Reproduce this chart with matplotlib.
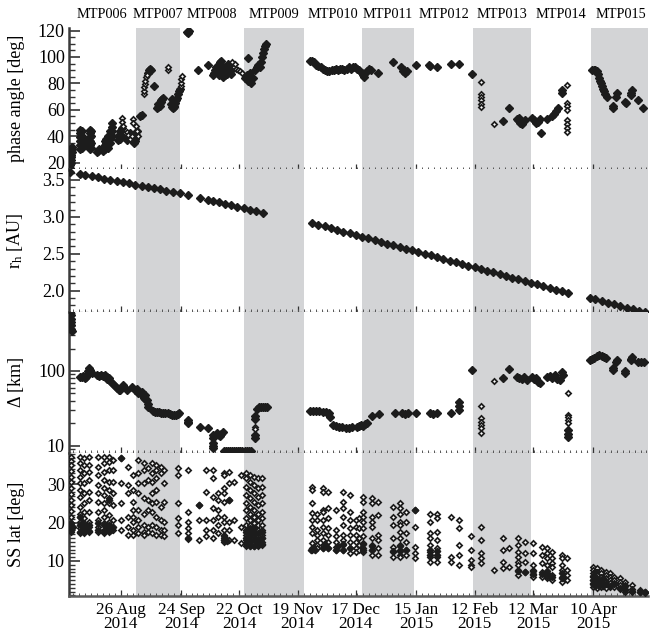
import numpy as np
import pandas as pd
import matplotlib
matplotlib.use('Agg')
import matplotlib.pyplot as plt
import matplotlib.dates as mdates
from matplotlib.transforms import blended_transform_factory
from matplotlib.ticker import MultipleLocator, FixedLocator, LogLocator, NullFormatter

plt.rcParams['font.family'] = ['Liberation Serif', 'DejaVu Serif']
plt.rcParams['mathtext.fontset'] = 'custom'
plt.rcParams['mathtext.rm'] = 'Liberation Serif'
plt.rcParams['mathtext.it'] = 'Liberation Serif:italic'

EPOCH = '2014-08-01'   # all "day" values are days since this date

# ---------------- MTP periods ----------------
mtp_names = ['MTP006', 'MTP007', 'MTP008', 'MTP009', 'MTP010',
             'MTP011', 'MTP012', 'MTP013', 'MTP014', 'MTP015']
mtp_start = [0.0, 32.4, 53.5, 84.2, 112.9, 140.9, 165.9, 194.4, 222.1, 250.9]
mtp_end = [32.4, 53.5, 84.2, 112.9, 140.9, 165.9, 194.4, 222.1, 250.9, 279.5]
mtp_shaded = [False, True, False, True, False, True, False, True, False, True]

tick_dates = ['2014-08-26', '2014-09-24', '2014-10-22', '2014-11-19', '2014-12-17',
              '2015-01-15', '2015-02-12', '2015-03-12', '2015-04-10']
tick_labels = ['26 Aug\n2014', '24 Sep\n2014', '22 Oct\n2014', '19 Nov\n2014',
               '17 Dec\n2014', '15 Jan\n2015', '12 Feb\n2015', '12 Mar\n2015',
               '10 Apr\n2015']

# ---------------- phase angle [deg] ----------------
pa_filled = [
    (0.8, 16), (0.8, 18), (1.0, 20), (1.0, 22), (1.2, 24), (1.2, 26), (1.4, 28), (1.4, 30), (1.6, 32),
    (5.6, 30), (5.6, 33), (5.6, 36), (5.6, 39), (5.6, 42), (5.6, 45), (6.4, 31), (6.4, 35), (6.4, 40), (6.4, 44),
    (7.4, 33), (7.4, 36), (8.4, 34), (8.4, 36), (9.4, 33), (9.4, 36),
    (10.2, 30), (10.2, 33), (10.2, 36), (10.2, 39), (10.2, 42), (10.2, 45), (10.8, 31), (10.8, 35), (10.8, 40), (10.8, 44),
    (13.6, 28), (14.2, 29), (14.8, 30),
    (16.5, 29), (16.5, 31), (17.3, 30), (17.3, 33), (17.3, 36), (18.1, 32), (18.1, 35), (18.1, 38),
    (19.0, 31), (19.0, 34), (19.0, 37), (19.0, 40), (19.8, 35), (19.8, 38), (19.8, 41), (19.8, 44),
    (20.6, 40), (20.6, 44), (20.6, 47), (20.6, 50),
    (23.8, 37), (23.8, 40), (24.6, 38), (24.6, 41), (24.6, 44), (25.4, 40), (25.4, 46),
    (28.0, 37), (28.6, 39), (29.3, 42),
    (31.2, 35), (31.8, 36), (31.8, 38), (32.4, 41), (33.0, 44),
    (34.3, 55), (35.0, 56),
    (38.0, 88), (38.5, 90), (39.0, 91), (39.5, 90),
    (41.0, 78),
    (42.6, 61), (43.0, 62), (43.0, 64), (43.4, 63), (43.8, 65), (44.0, 63), (44.2, 66), (44.6, 67), (45.0, 68), (45.3, 69),
    (49.2, 64), (49.5, 68), (49.6, 62), (50.0, 61), (50.0, 66), (50.4, 62), (50.8, 63), (51.2, 65), (51.6, 67), (52.0, 69),
    (52.6, 72), (53.0, 74), (53.4, 76),
    (57.0, 119), (57.3, 118), (57.6, 120),
    (62.1, 90), (67.0, 94),
    (69.5, 86), (70.0, 88), (70.5, 90), (71.0, 92), (71.5, 91), (72.0, 94), (72.0, 86), (72.5, 96), (73.0, 97),
    (73.5, 93), (74.0, 90), (74.0, 85), (74.5, 88), (75.0, 86), (75.5, 89), (76.0, 92), (76.0, 87), (76.5, 95),
    (77.0, 93), (77.5, 89), (78.0, 87), (78.5, 91),
    (84.7, 84), (85.5, 86), (86.0, 99), (86.3, 82), (87.0, 88), (87.8, 80), (88.6, 84), (89.5, 90), (90.3, 92),
    (91.1, 94), (91.8, 92), (92.3, 96), (92.8, 100), (93.3, 103), (93.8, 106), (94.3, 108), (94.8, 110),
    (116.0, 97), (117.0, 97), (118.0, 96), (119.0, 94), (120.0, 93), (121.0, 92), (122.0, 91), (123.0, 90),
    (124.0, 89), (125.0, 89),
    (126.5, 90), (127.5, 90), (128.5, 91), (129.5, 90), (130.5, 91), (131.5, 91), (132.5, 90), (133.5, 91),
    (134.5, 92), (135.5, 91), (136.5, 92), (137.5, 92), (138.5, 91), (139.5, 90),
    (141.0, 88), (141.5, 86), (142.0, 85), (142.5, 88), (143.5, 89), (144.5, 91), (145.0, 90),
    (148.6, 88), (155.8, 96),
    (159.5, 92), (160.5, 89), (161.0, 90), (161.5, 88), (162.5, 89),
    (166.8, 94), (173.1, 94), (173.6, 93), (176.9, 92), (183.6, 95), (187.5, 94.6), (193.7, 87),
    (208.6, 51.4), (211.5, 61),
    (215.3, 53), (216.0, 52), (216.5, 54), (217.0, 50), (218.0, 49), (219.0, 52),
    (222.5, 54), (223.5, 52), (224.5, 50), (225.5, 51), (226.4, 53),
    (226.9, 42), (229.8, 53),
    (232.2, 55), (233.0, 57), (234.0, 59), (235.0, 61),
    (236.9, 73), (237.1, 75),
    (251.4, 90), (252.2, 90), (253.0, 90), (253.8, 89),
    (254.3, 87), (254.8, 84), (255.3, 82), (255.8, 80), (256.3, 78), (256.8, 76), (257.3, 74), (257.8, 72), (258.4, 70),
    (261.4, 61), (261.6, 63), (263.3, 72.6), (263.1, 70), (267.2, 66), (267.5, 65),
    (270.5, 75), (270.3, 73), (270.1, 71), (273.4, 67), (275.8, 61),
]
pa_open = [
    (25.8, 54), (25.8, 51), (26.3, 48),
    (28.0, 43), (28.6, 41), (29.3, 38), (30.4, 40),
    (31.0, 53), (31.0, 50),
    (32.3, 48), (32.8, 44), (33.3, 40),
    (36.3, 72), (36.3, 74.5), (36.3, 77), (36.6, 79.5), (36.9, 82), (37.2, 84.5), (37.5, 86),
    (47.7, 90), (47.7, 92.5),
    (53.8, 78), (54.0, 80.5), (54.2, 83), (54.5, 85.5),
    (78.5, 96), (79.5, 92), (80.0, 95), (80.5, 91), (81.5, 90), (82.5, 89), (83.5, 88),
    (198.0, 81), (198.0, 72), (198.0, 69.5), (198.0, 67), (198.0, 64.5), (198.0, 62),
    (204.3, 49),
    (239.4, 78.7), (239.4, 65), (239.4, 62.5), (239.4, 60), (239.4, 52), (239.4, 49), (239.4, 46), (239.4, 43),
]

# ---------------- heliocentric distance r_h [AU] ----------------
rh_days = [0.6, 5.5, 8, 11, 14, 17, 20, 23, 26, 29, 32, 35, 38, 41, 44, 47, 50, 53.5,
           57.4, 63.1, 66.9, 69.5, 72, 75, 78, 81, 84, 87, 90, 93.4,
           117, 120, 123, 126, 129, 132, 135, 138, 141, 144, 147, 150, 153, 156, 159, 162,
           165, 168, 171, 174, 177, 180, 183, 186, 189, 192, 195, 198, 201, 204, 207, 210,
           213, 216, 219, 222, 225, 228, 231, 234, 237, 239.9,
           250.5, 253, 256, 259, 262, 265, 268, 271, 274, 276.8]
rh_vals = [3.610, 3.583, 3.569, 3.553, 3.536, 3.520, 3.503, 3.487, 3.471, 3.454, 3.438, 3.421,
           3.405, 3.388, 3.372, 3.355, 3.339, 3.320,
           3.294, 3.257, 3.232, 3.215, 3.198, 3.178, 3.158, 3.138, 3.118, 3.098, 3.078, 3.056,
           2.916, 2.893, 2.870, 2.847, 2.824, 2.800, 2.777, 2.754, 2.731, 2.708, 2.685, 2.662,
           2.639, 2.616, 2.593, 2.570, 2.547, 2.524, 2.500, 2.477, 2.454, 2.431, 2.408, 2.385,
           2.362, 2.339, 2.316, 2.293, 2.270, 2.247, 2.224, 2.200, 2.177, 2.154, 2.131, 2.108,
           2.085, 2.062, 2.039, 2.016, 1.993, 1.971,
           1.900, 1.881, 1.858, 1.836, 1.813, 1.791, 1.768, 1.746, 1.723, 1.712]

# ---------------- distance Delta [km] ----------------
dl_filled = [
    (0.8, 620), (0.9, 560), (1.0, 500), (1.1, 450), (1.2, 410), (1.3, 370), (1.4, 340),
    (5.5, 84), (6.3, 82), (7.0, 86), (7.8, 80), (8.5, 84), (9.0, 88), (9.5, 100), (9.9, 108), (10.4, 104), (11.0, 95),
    (13.6, 88), (14.5, 86), (15.5, 88), (16.5, 86), (17.5, 88), (17.5, 85), (18.5, 84), (18.5, 78), (19.5, 80),
    (19.5, 75), (20.5, 71),
    (21.3, 68), (22.2, 63), (23.1, 59), (24.0, 56), (24.6, 55),
    (26.1, 65), (28.0, 56), (30.4, 61),
    (31.9, 56), (32.6, 58), (33.3, 54), (33.5, 50), (34.0, 52), (34.7, 50), (35.0, 53), (35.4, 47), (36.1, 44),
    (36.5, 48), (36.8, 42), (37.5, 41),
    (38.1, 33), (38.1, 36),
    (40.5, 29), (41.5, 28), (42.5, 28), (43.5, 28), (44.5, 27.5), (45.5, 27), (46.5, 27), (47.5, 27), (48.5, 26.5),
    (49.5, 26), (50.5, 25.5), (51.5, 26), (52.5, 26.5), (53.2, 27),
    (57.3, 22), (57.3, 21), (57.5, 20),
    (63.1, 17.8), (66.9, 17.3),
    (69.3, 14), (69.3, 12.5), (69.4, 11), (69.4, 10), (69.5, 9.3),
    (71.3, 15), (72.0, 14), (72.7, 13.6), (73.4, 14.5), (74.1, 15.2),
    (74.5, 8.6), (75.5, 8.6), (76.5, 8.6), (77.5, 8.6), (78.5, 8.6), (79.5, 8.6), (80.5, 8.5), (81.5, 8.5),
    (82.5, 8.5), (83.5, 8.5), (84.5, 8.5), (85.5, 8.5), (86.5, 8.5), (87.5, 8.5),
    (89.5, 25), (89.5, 23), (89.5, 14), (89.5, 12.6),
    (90.5, 31), (91.5, 32.5), (92.5, 33), (93.5, 33), (94.5, 33), (95.3, 33),
    (116, 29), (117.5, 29), (119, 29), (120.5, 29), (122, 28.5), (123.5, 28), (125, 27), (125.5, 24.2),
    (127, 19), (128.5, 18.5), (130, 18), (131.5, 17.8), (133, 17.5), (134.5, 17.5), (136, 17.8),
    (138.5, 18), (139.5, 18.5), (140.5, 19), (141.5, 18.5), (142.5, 19.5), (143.3, 20),
    (145.7, 25), (149.1, 26.6), (156.7, 27), (160.1, 27), (161.5, 26.5), (163, 27), (166.8, 27),
    (173.6, 27), (175.2, 26.5), (176.9, 27), (183.6, 27),
    (187.5, 38.5), (187.5, 34), (187.5, 30),
    (193.7, 103),
    (208.6, 80), (211.5, 106),
    (215.3, 83), (216.5, 80), (217.7, 78), (218.9, 82), (220.1, 76),
    (222.5, 83), (223.5, 78), (224.5, 80), (225.5, 72), (226.4, 69),
    (229.8, 82), (231, 86), (232.2, 80), (233.4, 88), (234.6, 78), (235.8, 76), (236.9, 97), (237.4, 88),
    (239.9, 16), (239.9, 14.5), (239.9, 13),
    (250.4, 140), (251.5, 145), (252.6, 150), (253.7, 158), (254.8, 164), (256, 160), (257.1, 155), (258.2, 150),
    (261.4, 103), (261.6, 110), (263.3, 140), (263.1, 130), (267.2, 94), (267.4, 100),
    (270.5, 154), (270.3, 145), (270.1, 140), (273.4, 132), (275, 131), (276.5, 132),
]
dl_open = [(89.5, 18), (89.5, 16.5), (198, 34), (198, 23.5), (198, 21), (198, 19), (198, 17), (198, 15),
           (204.3, 73.5), (239.9, 51), (239.9, 26), (239.9, 24), (239.9, 22), (239.9, 20)]

# ---------------- sub-solar latitude [deg] (columns of facets) ----------------
ss_col_days = [1.1, 5.5, 7.4, 9.8, 14.1, 17.0, 19.4, 21.3, 25.2, 28.5, 31.0, 33.3, 36.2, 38.1, 40.0,
               41.9, 44.3, 45.8, 52.5, 57.4, 62.6, 66.0, 69.4, 71.7, 74.6, 77.0, 79.4, 82.8,
               85.2, 87.1, 89.0, 90.9, 92.9,
               117.0, 119.4, 122.3, 124.6, 128.5, 131.8, 135.1, 138.0, 139.5, 141.4, 145.7, 148.6,
               155.8, 159.2, 162.0, 166.4, 173.6, 176.9, 183.6, 187.5, 193.3, 198.0, 204.3, 208.6,
               211.5, 215.8, 219.2, 223.0, 227.3, 229.8, 232.2, 237.0, 239.4,
               251.8, 253.8, 255.7, 258.1, 260.0, 261.9, 264.8, 267.2, 270.6, 274.4, 276.8]
ss_col_lats = [
    [37.2, 36, 35, 33.5, 32, 30.5, 29, 27.5, 26, 24.5, 23, 21.5, 20, 19, 18, 17.5],
    [37.2, 35.5, 33.8, 32.0, 30.3, 28.5, 26.8, 24.2, 22.4, 21.6, 20.3, 19.4, 18.5, 17.7, 17.2],
    [36.8, 35.1, 32.9, 30.3, 27.7, 25.1, 22.9, 21.1, 19.8, 19.0, 18.1, 17.4],
    [37.2, 35.1, 33.3, 31.1, 28.1, 25.9, 22.9, 20.3, 19.0, 17.7],
    [37.2, 34.6, 32.5, 29.8, 27.7, 25.5, 22.9, 20.7, 19.0, 17.7],
    [37.2, 35.5, 33.3, 31.1, 29.0, 27.2, 25.1, 23.3, 21.6, 19.8, 18.1, 17.2],
    [37.2, 35.9, 33.8, 30.7, 28.5, 26.4, 25.9, 25.1, 22.0, 20.3, 19.4, 18.5, 17.7],
    [36.4, 33.8, 30.7, 27.7, 24.6, 20.7, 18.1],
    [36.8, 30.3, 25.1, 20.7, 18.1],
    [34.6, 29.8, 27.7, 21.6, 19.0, 16.8],
    [32.5, 28.5, 25.5, 23.3, 21.6, 20.3, 18.1, 16.8],
    [36.4, 32.9, 30.3, 27.7, 23.3, 20.7, 19.0, 17.2],
    [35.5, 33.8, 30.3, 26.4, 22.4, 19.4, 17.7, 16.8],
    [34.2, 31.1, 25.9, 23.3, 19.0, 17.7],
    [35.5, 32.9, 30.7, 27.7, 25.1, 22.9, 19.4, 17.2],
    [35.1, 33.8, 31.6, 28.5, 25.5, 21.6, 19.0, 16.8],
    [34.6, 32.9, 24.2, 20.7, 18.1, 16.8],
    [33.8, 30.3, 25.5, 20.3, 18.1, 16.5],
    [34.2, 32.5, 25.1, 21.1, 19.4, 17.2],
    [33.8, 22.9, 20.3, 18.5, 17.2, 15.7],
    [24.6, 20.7, 15.5],
    [33.8, 28.1, 20.7, 18.1, 16.4],
    [33.8, 31.6, 26.8, 23.8, 20.7, 18.1, 15.9],
    [27.7, 25.9, 23.3, 21.6, 19.4, 17.2],
    [32.9, 32.5, 29.0, 27.7, 25.5, 21.6, 20.3, 18.1, 16.8, 15.9, 15.5, 15.0],
    [33.3, 30.3, 25.9, 20.3, 18.1, 15.5],
    [30.7, 20.7, 15.5],
    [32.5, 19.0, 14.6],
    [32.9, 31.6, 29.4, 27.2, 25.1, 23.3, 21.1, 19.4, 18.1, 16.8, 15.5, 14.6, 13.9],
    [32.5, 30.7, 28.5, 26.4, 24.2, 22.4, 20.7, 19.4, 18.1, 17.2, 16.4, 15.5, 14.6],
    [32.0, 29.8, 27.7, 25.5, 23.3, 21.6, 19.8, 18.5, 17.2, 16.4, 15.5, 14.6, 13.9],
    [31.6, 29.0, 26.8, 24.6, 22.4, 20.7, 19.4, 18.1, 17.2, 16.4, 15.5, 14.6, 13.9],
    [31.6, 29.4, 27.2, 25.1, 22.9, 21.1, 19.4, 18.1, 16.8, 15.9, 15.0, 14.2],
    [29.4, 28.5, 25.1, 22.5, 20.7, 18.9, 17.3, 14.7, 13.4, 13.0],
    [22.4, 20.7, 18.1, 16.8, 15.5, 14.2, 13.3],
    [29.0, 28.1, 23.3, 22.9, 20.7, 19.0, 17.2, 15.5, 14.2, 13.3],
    [28.1, 23.8, 21.1, 18.5, 16.8, 15.0, 13.3],
    [23.3, 18.1, 16.4, 15.0, 13.7, 12.9],
    [28.1, 25.5, 23.8, 21.6, 19.4, 16.8, 15.5, 14.2, 12.9],
    [27.2, 22.9, 20.7, 18.5, 16.8, 15.0, 13.3, 12.0],
    [20.7, 19.0, 16.8, 15.0, 13.3, 12.4],
    [21.1, 18.5, 15.9, 14.2, 12.9],
    [26.8, 25.5, 22.9, 21.6, 20.3, 18.5, 16.4, 14.6, 13.3, 12.4],
    [26.4, 25.1, 21.6, 20.3, 19.0, 15.9, 14.2, 12.9, 11.6],
    [25.5, 22.0, 16.8, 15.5, 13.3, 11.6],
    [24.2, 21.6, 19.4, 15.9, 13.7, 12.4, 11.1],
    [25.1, 23.8, 22.4, 20.3, 19.4, 17.7, 15.9, 14.2, 12.9, 11.6, 11.1],
    [22.9, 20.3, 17.2, 15.0, 12.9, 11.6],
    [23.3, 19.0, 13.7, 12.0, 10.7],
    [22.4, 20.3, 17.2, 15.9, 14.2, 12.4, 11.1, 9.8],
    [22.4, 21.1, 17.7, 15.5, 13.3, 11.1, 9.8],
    [21.6, 11.1, 9.8],
    [20.7, 18.5, 14.2, 11.6, 9.0],
    [16.4, 12.9, 10.3, 9.0, 8.5],
    [19.0, 15.5, 12.0, 10.7, 9.4],
    [7.7],
    [15.9, 12.9, 9.8, 8.1],
    [13.3, 8.5],
    [15.9, 14.2, 12.4, 11.1, 9.8, 9.0, 7.7, 6.3],
    [15.0, 12.0, 9.8, 7.2],
    [14.6, 12.0, 9.0, 7.7, 6.3, 5.9],
    [13.7, 11.6, 9.4, 7.2, 5.9],
    [13.3, 12.0, 10.7, 9.0, 6.8, 5.5],
    [12.4, 10.7, 9.4, 8.5, 6.3, 5.0],
    [11.6, 10.7, 9.0, 7.7, 5.9, 4.6],
    [10.7, 7.7, 6.3, 5.0],
    [8.5, 7.7, 6.8, 5.9, 5.0, 4.2, 3.3],
    [8.1, 7.2, 6.3, 5.5, 4.6, 3.7, 3.0],
    [7.7, 6.8, 5.9, 5.0, 4.2, 3.3],
    [7.2, 6.3, 5.5, 4.6, 3.7, 3.0],
    [6.8, 5.9, 5.0, 4.2, 3.3],
    [5.9, 5.0, 4.2, 3.3],
    [5.5, 4.6, 3.7, 2.8],
    [4.6, 3.7, 2.8, 2.0],
    [3.7, 2.8, 2.0],
    [2.4, 1.8],
    [2.0, 1.6],
]
ss_filled = [
    (1.1, 18), (1.1, 20), (2.0, 19), (5.5, 17.5), (5.5, 19.5), (5.5, 21.5), (6.5, 18), (6.5, 20), (7.4, 17.5),
    (7.4, 19), (8.5, 18.5), (9.8, 17.8), (9.8, 19.5), (14.1, 18), (14.1, 20), (17.0, 17.5), (17.0, 19.5),
    (18.2, 18.5), (19.4, 17.8), (19.4, 19.5), (19.4, 26), (20.5, 18), (21.3, 19), (25.2, 36.8),
    (57.4, 16), (62.6, 24.6), (74.6, 15.5), (75.3, 16), (76.0, 15.3), (74.6, 16.5), (77.0, 25.9),
    (85.2, 14.5), (85.2, 16), (85.2, 17.5), (87.0, 14), (87.0, 15.5), (87.0, 17), (87.0, 18.5), (89.0, 14),
    (89.0, 15.5), (89.0, 17), (89.0, 18.5), (91.0, 14.2), (91.0, 15.7), (91.0, 17.2), (93.0, 14.5), (93.0, 16),
    (93.0, 17.5),
    (116.5, 13), (117.5, 13.5), (118.5, 13), (122.0, 13.5), (123.0, 14.5), (124.5, 13.5), (128.5, 13),
    (129.5, 14), (131.8, 13), (131.8, 14.5), (135.0, 13.5), (141.4, 13), (141.4, 14.5), (145.7, 12.8),
    (145.7, 14), (155.8, 12.5), (159.2, 12.5), (159.2, 14), (162.0, 13), (166.4, 23.3), (173.6, 11.5),
    (173.6, 13), (176.9, 11.5), (176.9, 12.5),
    (216.0, 7.5), (219.2, 7), (223.0, 6.5), (223.0, 7.5), (227.3, 6.5), (229.8, 6), (229.8, 7.5), (232.2, 5.8),
    (237.0, 5.5), (237.0, 6.8),
    (251.8, 4), (251.8, 5), (251.8, 6), (252.8, 3.5), (252.8, 4.5), (252.8, 5.5), (252.8, 7), (253.8, 4),
    (254.8, 3.5), (254.8, 5), (255.7, 4), (256.7, 3.5), (256.7, 5.5), (258.1, 4), (260.0, 3.5), (261.9, 4),
    (264.8, 3.0), (267.2, 2.5), (267.2, 3.5), (270.6, 2.2), (274.4, 2.0), (276.8, 1.8),
]

# ---------------- helpers ----------------
EP = pd.Timestamp(EPOCH)


def to_dates(days):
    return EP + pd.to_timedelta(np.asarray(days, dtype=float), unit='D')


def unzip(pairs):
    d, v = zip(*pairs)
    return list(d), list(v)


INK = '#1c1c1c'


def plot_filled(ax, days, vals, ms=3.8):
    ax.plot(to_dates(days), vals, ls='none', marker='D', ms=ms, mfc=INK, mec=INK,
            mew=1.0, zorder=3)


def plot_open(ax, days, vals):
    ax.plot(to_dates(days), vals, ls='none', marker='D', ms=2.7, mfc='white', mec=INK,
            mew=1.25, zorder=3)


fig = plt.figure(figsize=(6.59, 6.35), dpi=100)
W_PX, H_PX = 659.0, 635.0
left, width = 69 / W_PX, 579 / W_PX
edges = [28, 169.5, 311.5, 453, 596]
axes = []
for i in range(4):
    b = 1 - edges[i + 1] / H_PX
    h = (edges[i + 1] - edges[i]) / H_PX
    axes.append(fig.add_axes([left, b, width, h]))

xmin = EP + pd.Timedelta(days=0.17)
xmax = EP + pd.Timedelta(days=278.3)
major_nums = mdates.date2num(pd.to_datetime(tick_dates))
minor_nums = []
step = np.mean(np.diff(major_nums)) / 10.0
x0n, x1n = mdates.date2num(xmin), mdates.date2num(xmax)
m = major_nums[0]
while m - step > x0n:
    m -= step
while m < x1n:
    minor_nums.append(m)
    m += step

for i, ax in enumerate(axes):
    for s, e, sh in zip(mtp_start, mtp_end, mtp_shaded):
        if sh:
            ax.axvspan(to_dates([s])[0], to_dates([e])[0], color='#d3d4d6', lw=0, zorder=0)
    ax.set_xlim(xmin, xmax)
    ax.xaxis.set_major_locator(FixedLocator(major_nums))
    ax.xaxis.set_minor_locator(FixedLocator(minor_nums))
    ax.spines['top'].set_visible(False)
    ax.spines['right'].set_visible(False)
    ax.spines['left'].set_linewidth(1.8)
    ax.spines['left'].set_color('#3a3a3a')
    if i < 3:
        ax.spines['bottom'].set_linestyle((0, (1, 3.5)))
        ax.spines['bottom'].set_linewidth(0.9)
        ax.spines['bottom'].set_color('#555555')
        ax.tick_params(axis='x', which='both', labelbottom=False)
    else:
        ax.spines['bottom'].set_linewidth(1.8)
        ax.spines['bottom'].set_color('#5a5a5a')
    ax.tick_params(axis='x', which='major', direction='in', length=4, width=0.9, color='#333333')
    ax.tick_params(axis='x', which='minor', direction='in', length=2, width=0.7, color='#555555')
    ax.tick_params(axis='y', which='major', direction='in', length=8, width=1.2, color='#333333',
                   labelsize=13, pad=3)
    ax.tick_params(axis='y', which='minor', direction='in', length=4, width=1.0, color='#333333')
    ax.yaxis.set_label_coords(-0.076, 0.5)

# panel 1: phase angle
ax = axes[0]
d, v = unzip(pa_filled)
plot_filled(ax, d, v)
d, v = unzip(pa_open)
plot_open(ax, d, v)
ax.set_ylim(14.7, 121.9)
ax.yaxis.set_major_locator(MultipleLocator(20))
ax.yaxis.set_minor_locator(MultipleLocator(5))
ax.set_ylabel('phase angle [deg]', fontsize=13)

# panel 2: r_h
ax = axes[1]
plot_filled(ax, rh_days, rh_vals, ms=3.9)
ax.set_ylim(1.718, 3.642)
ax.yaxis.set_major_locator(MultipleLocator(0.5))
ax.yaxis.set_minor_locator(MultipleLocator(0.1))
ax.yaxis.set_major_formatter(matplotlib.ticker.FormatStrFormatter('%.1f'))
ax.set_ylabel(r'r$_\mathrm{h}$ [AU]', fontsize=13)

# panel 3: Delta
ax = axes[2]
ax.set_yscale('log')
d, v = unzip(dl_filled)
plot_filled(ax, d, v)
d, v = unzip(dl_open)
plot_open(ax, d, v)
ax.set_ylim(7.98, 626)
ax.yaxis.set_major_locator(FixedLocator([10, 100]))
ax.yaxis.set_major_formatter(matplotlib.ticker.FixedFormatter(['10', '100']))
ax.yaxis.set_minor_locator(LogLocator(base=10, subs=np.arange(2, 10)))
ax.yaxis.set_minor_formatter(NullFormatter())
ax.set_ylabel('Δ [km]', fontsize=13)

# panel 4: SS lat
ax = axes[3]
sd, sl = [], []
for cd, lats in zip(ss_col_days, ss_col_lats):
    sd.extend([cd] * len(lats))
    sl.extend(lats)
plot_open(ax, sd, sl)
d, v = unzip(ss_filled)
plot_filled(ax, d, v, ms=3.3)
ax.set_ylim(0.86, 38.2)
ax.yaxis.set_major_locator(MultipleLocator(10))
ax.yaxis.set_minor_locator(MultipleLocator(1))
ax.set_ylabel('SS lat [deg]', fontsize=13)
ax.set_xticks(major_nums)
ax.set_xticklabels(tick_labels, fontsize=12.3, linespacing=0.88)
ax.tick_params(axis='x', which='major', pad=4)

# MTP labels
trans = blended_transform_factory(axes[0].transData, fig.transFigure)
for name, s, e in zip(mtp_names, mtp_start, mtp_end):
    mid = mdates.date2num(to_dates([(s + e) / 2.0])[0])
    axes[0].text(mid, 1 - 14 / H_PX, name, transform=trans, ha='center', va='center',
                 fontsize=10.3, clip_on=False)

fig.savefig('out.png', dpi=100)
